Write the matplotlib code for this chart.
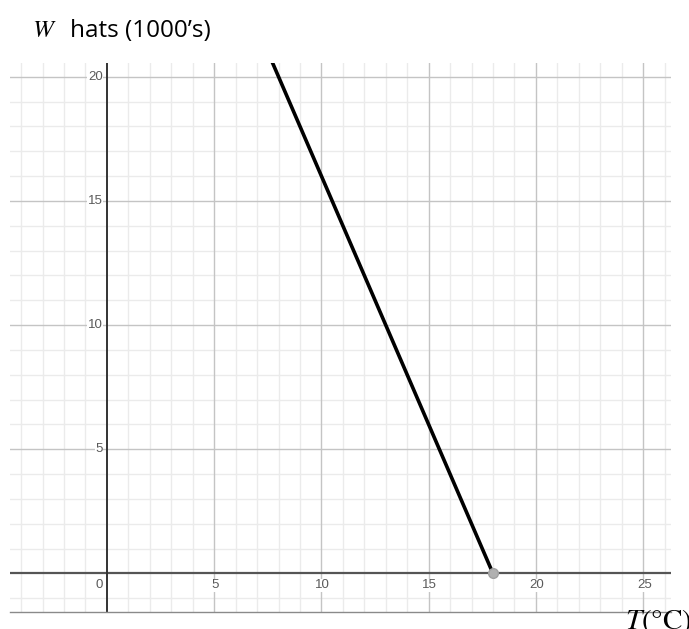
import matplotlib.pyplot as plt
import numpy as np

# ---------- data ----------
T_line = [7, 18]        # temperatura (°C)
W_line = [22, 0]        # sombreros (miles)
T_end, W_end = 18, 0    # punto final sobre el eje T

x_ticks = [5, 10, 15, 20, 25]
y_ticks = [5, 10, 15, 20]

# ---------- figura ----------
plt.rcParams['mathtext.fontset'] = 'stix'
fig = plt.figure(figsize=(6.89, 6.29), dpi=100)
ax = fig.add_axes([10/689, 1 - 612/629, 661/689, 549/629])
ax.set_xlim(-4.52, 26.3)
ax.set_ylim(-1.55, 20.55)

# cuadricula menor y mayor
for t in np.arange(-4, 27, 1):
    if t % 5:
        ax.axvline(t, color='#ebebeb', lw=1, zorder=0)
for w in np.arange(-1, 21, 1):
    if w % 5:
        ax.axhline(w, color='#ebebeb', lw=1, zorder=0)
for t in [-5] + x_ticks:
    ax.axvline(t, color='#c4c4c4', lw=1, zorder=1)
for w in y_ticks:
    ax.axhline(w, color='#c4c4c4', lw=1, zorder=1)

# ejes
ax.axhline(0, color='#555555', lw=1.6, zorder=2)
ax.axvline(0, color='#333333', lw=1.4, zorder=2)

for s in ['top', 'left', 'right']:
    ax.spines[s].set_visible(False)
ax.spines['bottom'].set_color('#8a8a8a')
ax.spines['bottom'].set_linewidth(1)
ax.set_xticks([])
ax.set_yticks([])

# etiquetas de los ejes
lab = dict(fontsize=9.5, color='#5a5a5a', family='Liberation Sans', zorder=3,
           bbox=dict(facecolor='white', edgecolor='none', pad=0.5))
for t in x_ticks:
    ax.text(t + 0.05, -0.47, str(t), ha='center', va='center', **lab)
ax.text(-0.37, -0.47, '0', ha='center', va='center', **lab)
for w in y_ticks:
    ax.text(-0.2, w, str(w), ha='right', va='center', **lab)

# recta
ax.plot(T_line, W_line, color='black', lw=2.6, solid_capstyle='butt', zorder=4)
ax.plot([T_end], [W_end], 'o', color='#b0b0b0', ms=7, mec='#a0a0a0', zorder=5, clip_on=False)

# titulos
fig.text(32/689, 1 - 37/629, "$W$", fontsize=18, ha='left', va='baseline')
fig.text(70/689, 1 - 37/629, "hats (1000’s)", fontsize=17.5, family='Open Sans',
         ha='left', va='baseline')
fig.text(625/689, 1 - 607/629, "$T$(°C)", fontsize=21, family='STIXGeneral',
         ha='left', va='top')

fig.savefig('out.png', dpi=100)
